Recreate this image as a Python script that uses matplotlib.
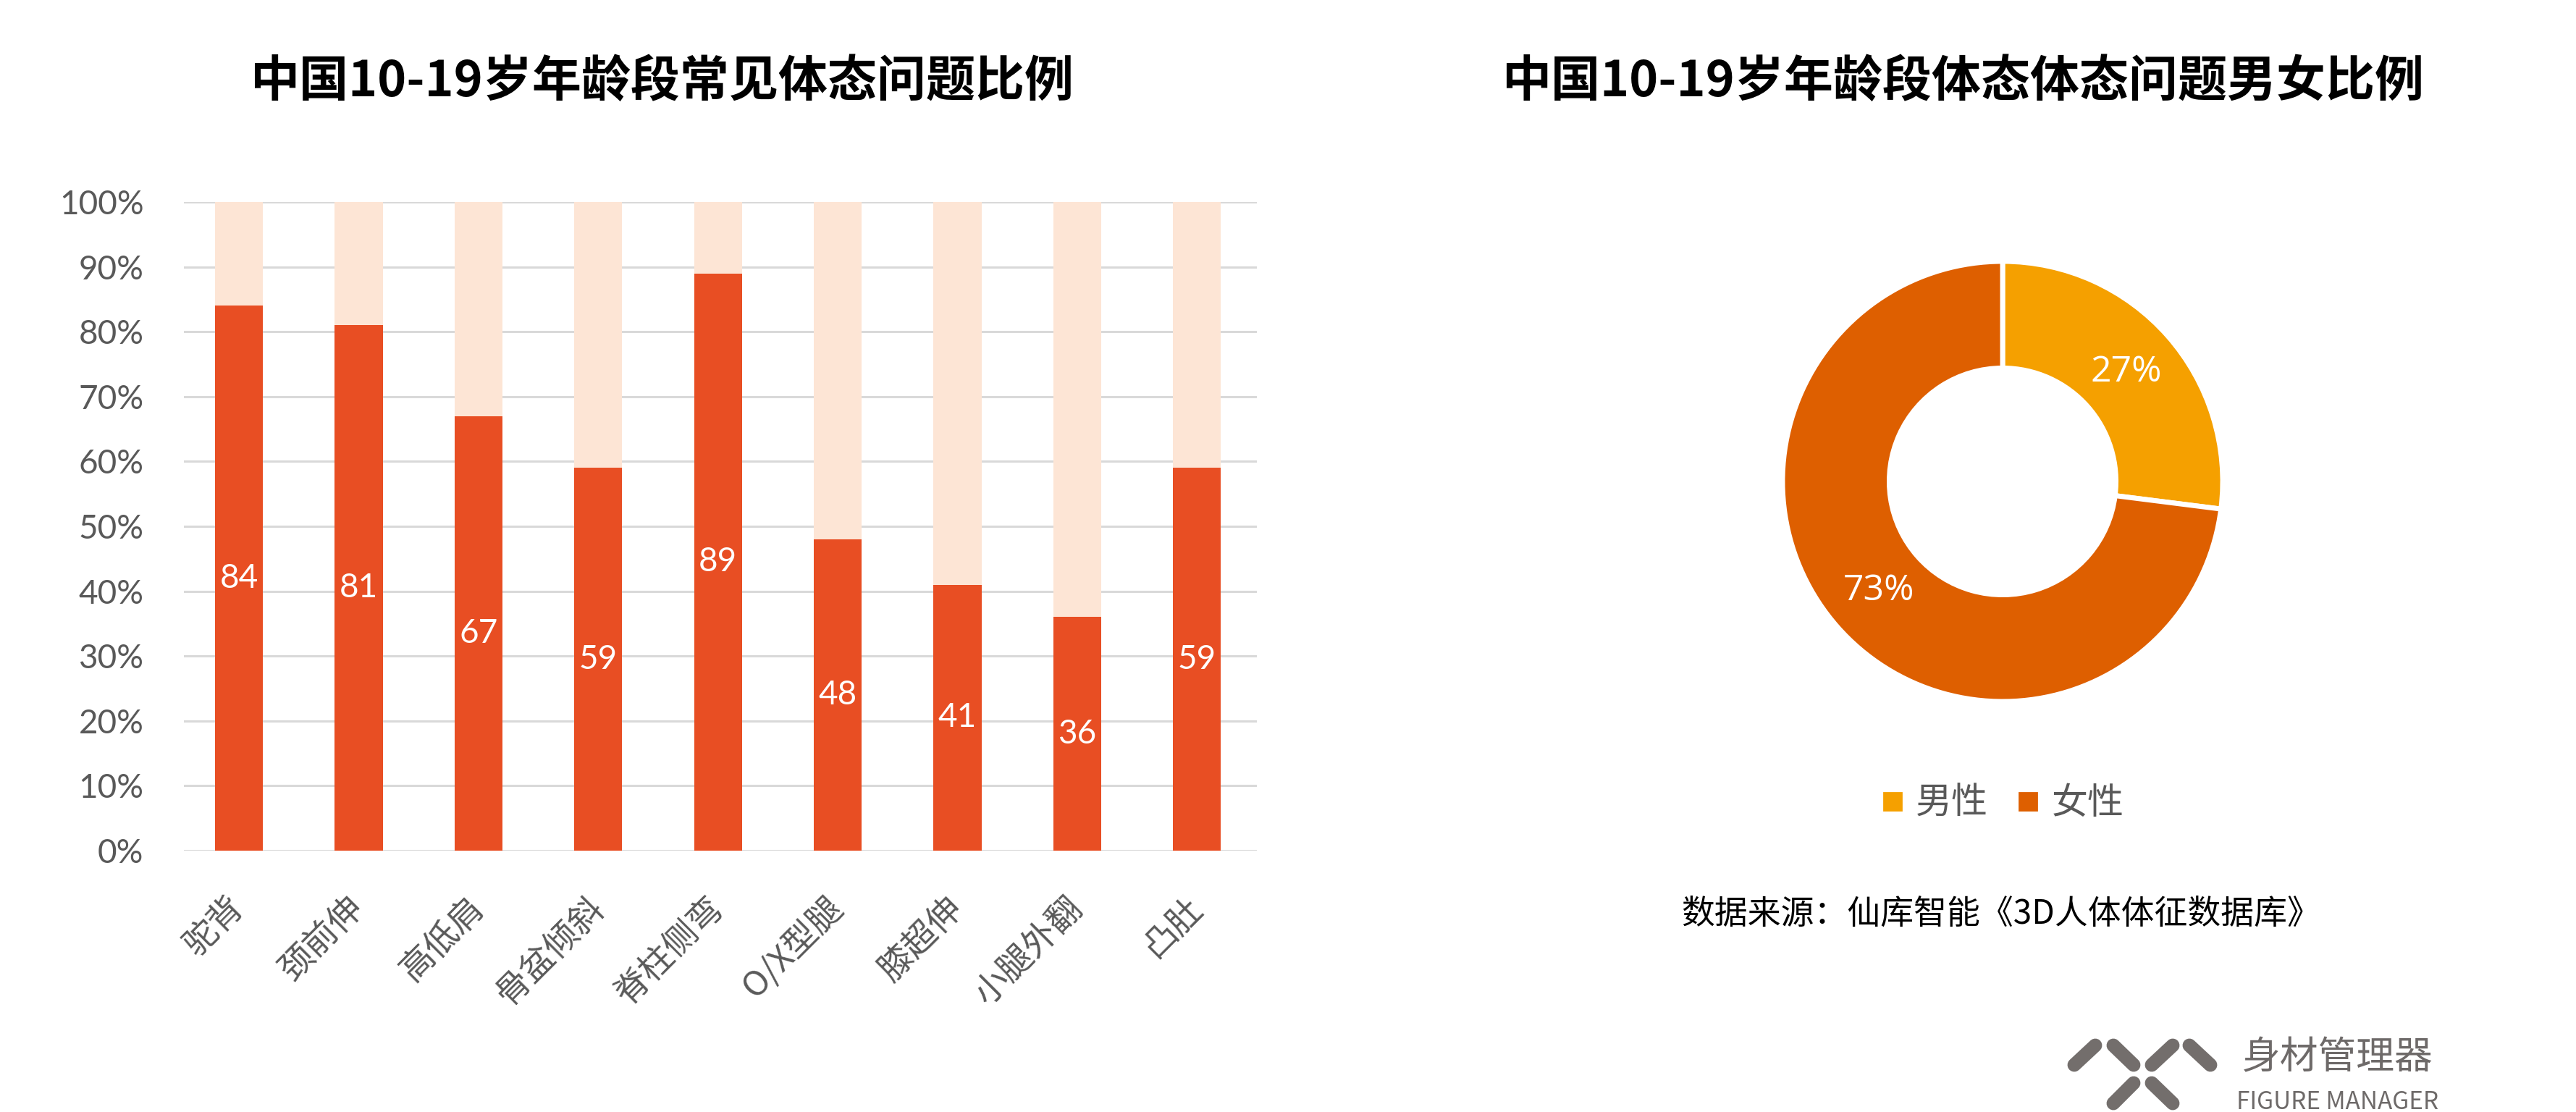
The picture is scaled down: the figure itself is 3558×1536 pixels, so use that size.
import matplotlib
matplotlib.use("Agg")
import matplotlib.pyplot as plt
from matplotlib.lines import Line2D
from matplotlib.ticker import FuncFormatter

# ---------------- data ----------------
categories = ["驼背", "颈前伸", "高低肩", "骨盆倾斜", "脊柱侧弯", "O/X型腿", "膝超伸", "小腿外翻", "凸肚"]
values = [84, 81, 67, 59, 89, 48, 41, 36, 59]
yticks = [0, 10, 20, 30, 40, 50, 60, 70, 80, 90, 100]
pie_labels = ["男性", "女性"]
pie_values = [27, 73]
title_left = "中国10-19岁年龄段常见体态问题比例"
title_right = "中国10-19岁年龄段体态体态问题男女比例"
source_text = "数据来源：仙库智能《3D人体体征数据库》"
logo_cn = "身材管理器"
logo_en = "FIGURE MANAGER"

CJK = ["Noto Sans CJK SC", "DejaVu Sans"]
NUM = ["Lato", "Noto Sans CJK SC", "DejaVu Sans"]
plt.rcParams["font.family"] = CJK

W, H, DPI = 3558, 1536, 200
fig = plt.figure(figsize=(W / DPI, H / DPI), dpi=DPI)
fig.patch.set_facecolor("white")

def fx(px):
    return px / W

def fy(py):
    return 1 - py / H

# ---------------- stacked bar chart ----------------
left, right, top, bottom = 254, 1736, 279, 1175
ax = fig.add_axes([fx(left), fy(bottom), (right - left) / W, (bottom - top) / H])
x = list(range(len(categories)))
rest = [100 - v for v in values]
ax.bar(x, values, width=0.4, color="#E84E23", zorder=3)
ax.bar(x, rest, bottom=values, width=0.4, color="#FDE5D5", zorder=3)
for xi, v in zip(x, values):
    ax.text(xi, v / 2, str(v), ha="center", va="center", color="white",
            fontsize=16.5, family=NUM, zorder=4)
ax.set_xlim(-0.46, 8.5)
ax.set_ylim(0, 100)
ax.set_yticks(yticks)
ax.yaxis.set_major_formatter(FuncFormatter(lambda v, p: f"{v:.0f}%"))
for lab in ax.get_yticklabels():
    lab.set_family(NUM)
ax.tick_params(axis="y", length=0, pad=20, labelsize=16.5, labelcolor="#595959")
ax.set_xticks(x)
ax.set_xticklabels(categories, rotation=45, ha="right", va="center",
                   rotation_mode="anchor", fontsize=17, color="#595959")
ax.tick_params(axis="x", length=0, pad=26)
ax.grid(axis="y", color="#D9D9D9", linewidth=1.1, zorder=0)
for s in ax.spines.values():
    s.set_visible(False)
ax.set_axisbelow(True)

fig.text(fx(914), fy(113), title_left, ha="center", va="center",
         fontsize=24.5, fontweight="bold", color="black")

# ---------------- donut ----------------
cx, cy, r = 2766, 665, 304
ax2 = fig.add_axes([fx(cx - r), fy(cy + r), 2 * r / W, 2 * r / H])
colors = ["#F5A000", "#DE5F00"]
wedges, texts, autotexts = ax2.pie(
    pie_values, colors=colors, startangle=90, counterclock=False, radius=1,
    wedgeprops=dict(width=0.485, edgecolor="white", linewidth=2.5),
    autopct=lambda p: f"{p:.0f}%", pctdistance=0.75,
    textprops=dict(color="white", fontsize=18, family=["Open Sans", "DejaVu Sans"]))
ax2.set_xlim(-1.0, 1.0)
ax2.set_ylim(-1.0, 1.0)
ax2.set_aspect("equal")
ax2.axis("off")

fig.text(fx(2711), fy(113), title_right, ha="center", va="center",
         fontsize=24.5, fontweight="bold", color="black")

handles = [Line2D([0], [0], marker="s", linestyle="none", markersize=8.5,
                  markerfacecolor=c, markeredgecolor=c) for c in colors]
leg = fig.legend(handles, pie_labels, loc="center", bbox_to_anchor=(fx(2766), fy(1110)),
                 ncol=2, frameon=False, fontsize=18, handlelength=0.6,
                 handletextpad=0.35, columnspacing=0.8, labelcolor="#595959")

fig.text(fx(2764), fy(1262), source_text, ha="center", va="center",
         fontsize=16.5, color="black")

# ---------------- logo ----------------
lax = fig.add_axes([0, 0, 1, 1])
lax.set_xlim(0, W)
lax.set_ylim(H, 0)
lax.axis("off")
logo_c = "#736E6C"
segs = [
    ((2865, 1471), (2894, 1444)),
    ((2919, 1444), (2947, 1471)),
    ((2972, 1471), (3001, 1444)),
    ((3024, 1444), (3053, 1471)),
    ((2919, 1524), (2947, 1496)),
    ((2972, 1496), (3001, 1524)),
]
for (x0, y0), (x1, y1) in segs:
    lax.plot([x0, x1], [y0, y1], color=logo_c, linewidth=6.8, solid_capstyle="round")
lax.text(3229, 1461, logo_cn, ha="center", va="center", fontsize=19, color="#6E6A69")
lax.text(3229, 1522, logo_en, ha="center", va="center", fontsize=12, color="#6E6A69")

fig.savefig("out.png", dpi=DPI, facecolor="white")
